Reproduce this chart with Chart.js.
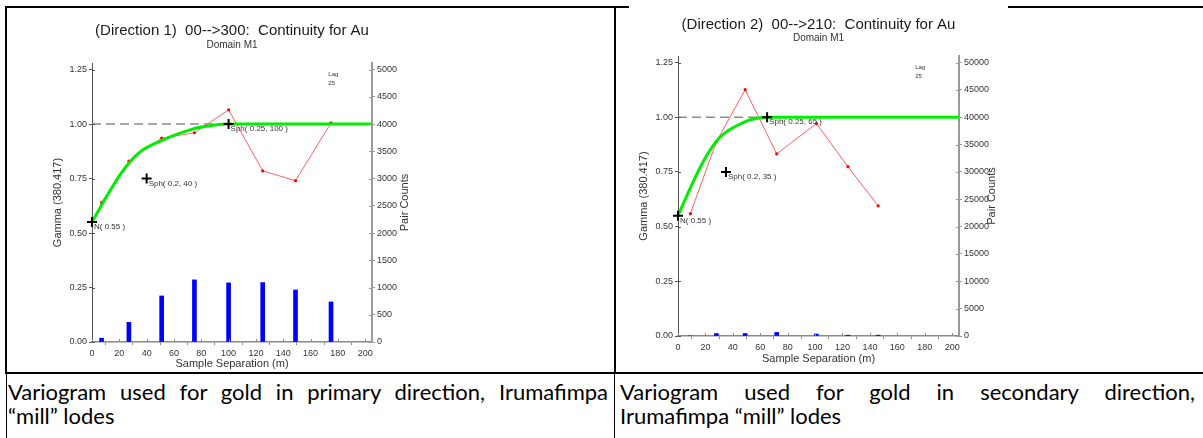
<!DOCTYPE html>
<html>
<head>
<meta charset="utf-8">
<script src="https://cdn.jsdelivr.net/npm/chart.js@4.4.1/dist/chart.umd.min.js"></script>
<style>
body{margin:0;background:#fff;}
#page{position:relative;width:1203px;height:438px;overflow:hidden;background:#fff;}
.ln{position:absolute;background:#000;}
.box{position:absolute;}
.cap{position:absolute;top:380px;font-family:Lato,"Liberation Sans",sans-serif;font-size:22px;line-height:24px;color:#000;}
.cap .j{text-align:justify;text-align-last:justify;}
</style>
</head>
<body>
<div id="page">
  <div class="ln" style="left:5px;top:6px;width:624px;height:2px"></div>
  <div class="ln" style="left:1008px;top:6px;width:195px;height:2px"></div>
  <div class="ln" style="left:5px;top:6px;width:2px;height:368px"></div>
  <div class="ln" style="left:614px;top:6px;width:2px;height:368px"></div>
  <div class="ln" style="left:5px;top:372px;width:1198px;height:2px"></div>
  <div class="ln" style="left:6px;top:374px;width:1px;height:64px"></div>
  <div class="ln" style="left:614px;top:374px;width:1px;height:64px"></div>

  <div class="box" style="left:8px;top:9px;width:422px;height:363px"><canvas id="c1" width="422" height="363"></canvas></div>
  <div class="box" style="left:618px;top:9px;width:410px;height:363px"><canvas id="c2" width="410" height="363"></canvas></div>

  <div class="cap" style="left:8px;width:600px">
    <div class="j">Variogram used for gold in primary direction, Irumafimpa</div>
    <div>“mill” lodes</div>
  </div>
  <div class="cap" style="left:620px;width:575px">
    <div class="j">Variogram used for gold in secondary direction,</div>
    <div>Irumafimpa “mill” lodes</div>
  </div>
</div>

<script>
/* ---------- Direction 1 data ---------- */
const lag1 = [7, 27, 51, 75, 100, 125, 149, 175];
const gamma1 = [0.64, 0.83, 0.935, 0.96, 1.065, 0.785, 0.74, 1.005];
const pairs1 = [70, 360, 845, 1140, 1085, 1090, 955, 735];
const modelH1 = [0, 5, 10, 15, 20, 25, 30, 35, 40, 50, 60, 70, 80, 90, 100, 205];
const modelG1 = [0.55, 0.606, 0.661, 0.713, 0.762, 0.805, 0.842, 0.871, 0.892, 0.922, 0.948, 0.970, 0.986, 0.996, 1.0, 1.0];
const crossX1 = [0, 40, 100];
const crossY1 = [0.55, 0.75, 1.0];
const crossLbl1 = ['N( 0.55 )', 'Sph( 0.2, 40 )', 'Sph( 0.25, 100 )'];

/* ---------- Direction 2 data ---------- */
const lag2 = [9, 28, 49, 72, 101, 124, 146];
const gamma2 = [0.559, 0.888, 1.126, 0.833, 0.971, 0.774, 0.595];
const pairs2 = [0, 450, 450, 650, 350, 150, 150];
const modelH2 = [0, 5, 10, 15, 20, 25, 30, 35, 40, 45, 50, 55, 60, 65, 205];
const modelG2 = [0.55, 0.621, 0.691, 0.756, 0.815, 0.865, 0.905, 0.932, 0.952, 0.968, 0.982, 0.992, 0.998, 1.0, 1.0];
const crossX2 = [0, 35, 65];
const crossY2 = [0.55, 0.75, 1.0];
const crossLbl2 = ['N( 0.55 )', 'Sph( 0.2, 35 )', 'Sph( 0.25, 65 )'];

const gammaTicks = [0, 0.25, 0.5, 0.75, 1.0, 1.25];
const xTicks = [0, 20, 40, 60, 80, 100, 120, 140, 160, 180, 200];
const pTicks1 = [0, 500, 1000, 1500, 2000, 2500, 3000, 3500, 4000, 4500, 5000];
const pTicks2 = [0, 5000, 10000, 15000, 20000, 25000, 30000, 35000, 40000, 45000, 50000];

const F = '"Liberation Sans", Arial, sans-serif';

function xy(xs, ys){ return xs.map((x,i)=>({x, y: ys[i]})); }

/* ---------- text + inner tick plugin ---------- */
const annot = {
  id: 'annot',
  afterDraw(chart, args, o){
    const {ctx, chartArea: a, scales: {x, y, y2}} = chart;
    ctx.save();
    // inner half of the cross-shaped ticks
    ctx.lineWidth = 1;
    ctx.strokeStyle = '#555';
    y.ticks.forEach(t=>{ const p = Math.round(y.getPixelForValue(t.value))+0.5; ctx.beginPath(); ctx.moveTo(a.left, p); ctx.lineTo(a.left+3, p); ctx.stroke(); });
    ctx.strokeStyle = '#888';
    x.ticks.forEach(t=>{ const p = Math.round(x.getPixelForValue(t.value))+0.5; ctx.beginPath(); ctx.moveTo(p, a.bottom); ctx.lineTo(p, a.bottom-3); ctx.stroke(); });
    ctx.strokeStyle = '#999';
    y2.ticks.forEach(t=>{ const p = Math.round(y2.getPixelForValue(t.value))+0.5; ctx.beginPath(); ctx.moveTo(a.right, p); ctx.lineTo(a.right-3, p); ctx.stroke(); });

    const cx = (a.left + a.right)/2, cy = (a.top + a.bottom)/2;
    ctx.textAlign = 'center'; ctx.textBaseline = 'middle';
    ctx.fillStyle = '#1a1a1a';
    ctx.font = '15px ' + F;
    ctx.fillText(o.title, cx, a.top - o.titleOff);
    ctx.fillStyle = '#333';
    ctx.font = '10px ' + F;
    ctx.fillText(o.sub, cx, a.top - 18);
    ctx.font = '11px ' + F;
    ctx.fillText('Sample Separation (m)', cx, a.bottom + o.xTitleOff);
    ctx.save(); ctx.translate(a.left - 34, cy); ctx.rotate(-Math.PI/2); ctx.fillText('Gamma (380.417)', 0, 0); ctx.restore();
    ctx.save(); ctx.translate(a.right + 33, cy); ctx.rotate(-Math.PI/2); ctx.fillText('Pair Counts', 0, 0); ctx.restore();

    // lag note
    ctx.textAlign = 'left';
    ctx.font = '6px ' + F;
    ctx.fillText('Lag', x.getPixelForValue(173), y.getPixelForValue(1.23));
    ctx.fillText('25', x.getPixelForValue(173), y.getPixelForValue(1.185));

    // structure labels next to the crosses
    ctx.font = '8px ' + F;
    o.lx.forEach((v,i)=>{ ctx.fillText(o.labels[i], x.getPixelForValue(v)+2, y.getPixelForValue(o.ly[i])+5); });
    ctx.restore();
  }
};

function makeChart(id, d){
  return new Chart(document.getElementById(id), {
    type: 'scatter',
    data: { datasets: [
      {type:'scatter', data: xy(d.crossX, d.crossY), pointStyle:'cross', pointRadius:5, borderColor:'#000', borderWidth:2, clip:false, order:0},
      {type:'line', data: xy(d.modelH, d.modelG), borderColor:'#00ee00', borderWidth:3, pointRadius:0, cubicInterpolationMode:'monotone', order:1},
      {type:'line', data: xy(d.lag, d.gamma), borderColor:'#ff6060', borderWidth:1, pointRadius:1.6, pointBackgroundColor:'#ff0000', pointBorderWidth:0, order:2},
      {type:'line', data: xy([0, d.crossX[2]], [1, 1]), borderColor:'#8c8c8c', borderDash:[9,5], borderWidth:1.5, pointRadius:0, order:3},
      {type:'bar', data: xy(d.lag, d.pairs), yAxisID:'y2', backgroundColor:'#0000ff', barThickness:4, order:4}
    ]},
    options: {
      responsive:false, animation:false, devicePixelRatio:1,
      layout:{padding:{top:d.padTop, left:0, right:0, bottom:0}},
      plugins:{legend:{display:false}, tooltip:{enabled:false},
        annot:{title:d.title, sub:'Domain M1', titleOff:d.titleOff, xTitleOff:d.xTitleOff, lx:d.crossX, ly:d.crossY, labels:d.crossLbl}},
      scales:{
        x:{type:'linear', min:0, max:205, offset:false, afterFit:s=>{ s.height = d.xH; },
          afterBuildTicks:s=>{ s.ticks = xTicks.map(v=>({value:v})); },
          ticks:{font:{size:9, family:F}, color:'#333', padding:3, maxRotation:0, autoSkip:false, callback:v=>String(v)},
          grid:{drawOnChartArea:false, tickLength:3, color:'#888'}, border:{color:'#8a8a8a', width:1.5}},
        y:{type:'linear', position:'left', min:0, max:1.28, afterFit:s=>{ s.width = d.yW; },
          afterBuildTicks:s=>{ s.ticks = gammaTicks.map(v=>({value:v})); },
          ticks:{font:{size:9, family:F}, color:'#333', padding:2, callback:v=>Number(v).toFixed(2)},
          grid:{drawOnChartArea:false, tickLength:3, color:'#555'}, border:{color:'#555', width:1}},
        y2:{type:'linear', position:'right', min:0, max:d.pMax*1.28/1.25, afterFit:s=>{ s.width = d.y2W; },
          afterBuildTicks:s=>{ s.ticks = d.pTicks.map(v=>({value:v})); },
          ticks:{font:{size:9, family:F}, color:'#333', padding:2, callback:v=>String(v)},
          grid:{drawOnChartArea:false, tickLength:3, color:'#999'}, border:{color:'#9a9a9a', width:2}}
      }
    },
    plugins:[annot]
  });
}

makeChart('c1', {lag:lag1, gamma:gamma1, pairs:pairs1, modelH:modelH1, modelG:modelG1,
  crossX:crossX1, crossY:crossY1, crossLbl:crossLbl1, pMax:5000, pTicks:pTicks1,
  title:'(Direction 1)  00-->300:  Continuity for Au', titleOff:32, xTitleOff:22,
  padTop:54, yW:84, y2W:58, xH:30});

makeChart('c2', {lag:lag2, gamma:gamma2, pairs:pairs2, modelH:modelH2, modelG:modelG2,
  crossX:crossX2, crossY:crossY2, crossLbl:crossLbl2, pMax:50000, pTicks:pTicks2,
  title:'(Direction 2)  00-->210:  Continuity for Au', titleOff:31, xTitleOff:23,
  padTop:47, yW:60, y2W:69, xH:36});
</script>
</body>
</html>
